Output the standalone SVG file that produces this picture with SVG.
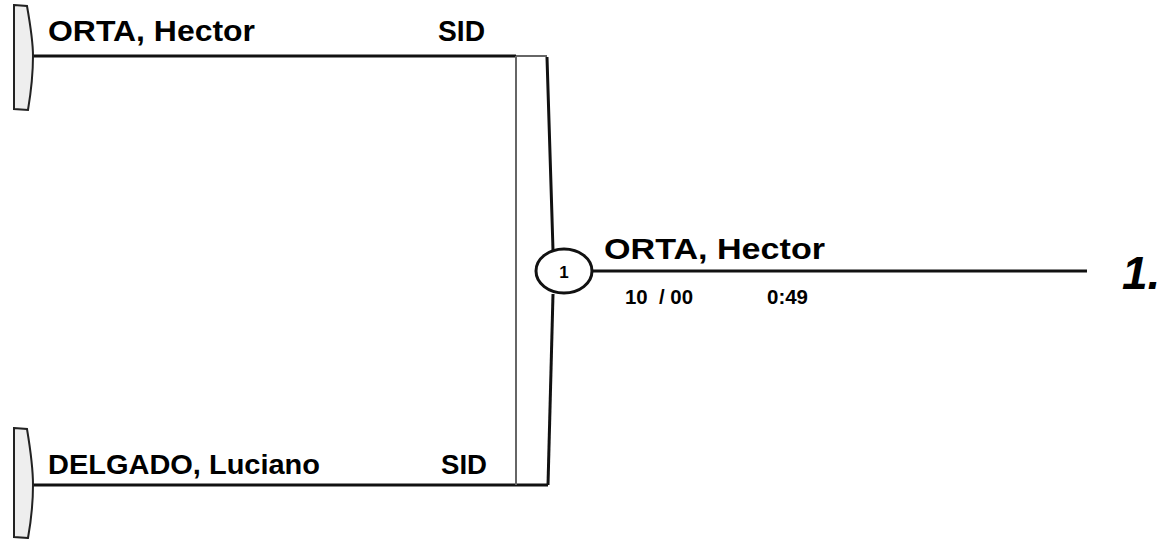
<svg xmlns="http://www.w3.org/2000/svg" width="1166" height="539" viewBox="0 0 1166 539">
<style>
.name{font-family:"Liberation Sans",Arial,sans-serif;font-weight:bold;fill:#000}
.tab{fill:#eee;stroke:#222;stroke-width:2}
.line{stroke:#111;stroke-width:3;fill:none}
.gray{stroke:#666;stroke-width:2;fill:none}
</style>
<rect width="1166" height="539" fill="#fff"/>
<g id="connectors">
<line class="line" x1="33" y1="56" x2="516" y2="56"/>
<line class="line" x1="33" y1="485" x2="548" y2="485"/>
<line class="gray" x1="516" y1="56" x2="547" y2="56"/>
<line class="gray" x1="516" y1="56" x2="516" y2="485"/>
<polyline class="line" points="547,57 553,250"/>
<polyline class="line" points="553,294 548,485"/>
<line class="line" x1="592" y1="271" x2="1087" y2="271"/>
</g>
<g id="p1">
<path class="tab" d="M14,5 L27,6 Q33,40 33,56 Q33,80 28,110 L14,109 Z"/>
<text class="name" x="48" y="41" font-size="29" textLength="207" lengthAdjust="spacingAndGlyphs">ORTA, Hector</text>
<text class="name" x="438" y="41" font-size="29" textLength="47" lengthAdjust="spacingAndGlyphs">SID</text>
</g>
<g id="p2">
<path class="tab" d="M14,428 L27,429 Q33,465 33,485 Q33,510 28,538 L14,537 Z"/>
<text class="name" x="48" y="474" font-size="27" textLength="272" lengthAdjust="spacingAndGlyphs">DELGADO, Luciano</text>
<text class="name" x="441" y="474" font-size="27" textLength="46" lengthAdjust="spacingAndGlyphs">SID</text>
</g>
<g id="match1">
<ellipse cx="564" cy="271" rx="28" ry="22" fill="#fff" stroke="#111" stroke-width="3"/>
<text class="name" x="564" y="278" font-size="17" text-anchor="middle">1</text>
<text class="name" x="604" y="259" font-size="30" textLength="221" lengthAdjust="spacingAndGlyphs">ORTA, Hector</text>
<text class="name" x="625" y="304" font-size="20" xml:space="preserve" textLength="68" lengthAdjust="spacingAndGlyphs">10  / 00</text>
<text class="name" x="767" y="304" font-size="20" textLength="41" lengthAdjust="spacingAndGlyphs">0:49</text>
</g>
<g id="result">
<text class="name" x="1122" y="289" font-size="46" font-style="italic">1.</text>
</g>
</svg>
